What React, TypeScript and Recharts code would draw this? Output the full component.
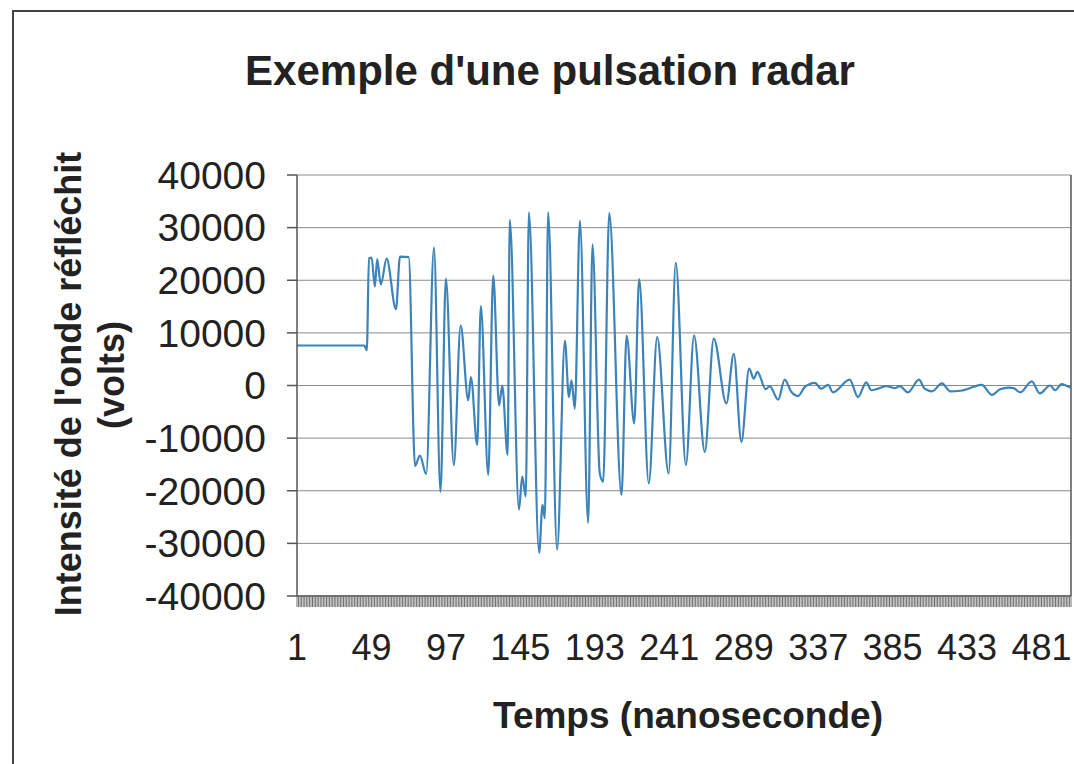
import React from "react";
import { LineChart, Line, XAxis, YAxis, CartesianGrid, ReferenceLine } from "recharts";

// Time (ns) of key points of the trace
const timeNs = [
  1, 44.4, 46.0, 47.4, 49.1, 51.2, 52.7, 55.0, 58.8, 64.8, 67.4, 73.0, 77.1, 80.2, 84.3,
  89.3, 93.5, 97.0, 102.1, 106.5, 111.4, 113.1, 117.2, 119.5, 124.3, 127.5, 131.3, 133.3, 136.8, 138.2,
  144.1, 146.2, 148.5, 150.5, 157.1, 159.3, 160.8, 162.9, 168.7, 173.7, 176.3, 178.0, 180.1, 183.4,
  188.7, 191.5, 196.2, 198.4, 202.3, 210.2, 213.5, 218.4, 221.6, 227.8, 233.2, 240.6, 245.2,
  251.7, 257.0, 263.9, 269.7, 277.8, 282.6, 287.5, 292.5, 295.5, 297.8, 303.2, 305.8, 311.2, 315.4,
  319.7, 324.0, 328.3, 331.6, 334.8, 339.0, 343.4, 346.5, 357.3, 362.7, 368.0, 371.3, 375.6, 381.0,
  386.3, 389.6, 394.9, 402.0, 405.6, 410.4, 416.8, 422.2, 428.7, 432.9, 437.2, 442.5, 449.0,
  454.3, 459.7, 463.0, 467.3, 474.7, 479.9, 486.5, 489.8, 494.0, 497.4, 500,
];

// Reflected wave intensity (volts) at those times
const volts = [
  7600, 7600, 6700, 24200, 24300, 18800, 24000, 19200, 24100, 14500, 24500, 24400, -15300, -13300, -16800,
  26200, -20200, 20300, -15100, 11400, -2800, 1600, -11300, 15100, -17000, 20900, -3800, 0, -13200, 31500,
  -23600, -17300, -21100, 32900, -31800, -22700, -25200, 32900, -31200, 8500, -2200, 1000, -4400, 31300,
  -26100, 26800, -16700, -18300, 32800, -20800, 9500, -7200, 20200, -18600, 9200, -16700, 23300,
  -15100, 9500, -12600, 8900, -3400, 6000, -10700, 3200, 1300, 2600, -700, -100, -2700, 1100,
  -1200, -2000, -300, 300, 500, -600, 100, -1300, 1100, -2200, 600, -900, -600, -100,
  -500, -100, -1300, 1100, -600, -1100, 400, -1100, -1000, -700, -250, 100, -1800,
  -700, -400, -500, -1300, 800, -1500, 0, -900, 250, -100, -400,
];

const xTickLabels = [1, 49, 97, 145, 193, 241, 289, 337, 385, 433, 481];
const yTicks = [-40000, -30000, -20000, -10000, 0, 10000, 20000, 30000, 40000];
const lastSample = 500;

const data = timeNs.map((t, i) => ({ t, v: volts[i] }));
const hatchTicks = Array.from({ length: lastSample }, (_, i) => i + 1);

const FONT = "'Liberation Sans', Arial, Helvetica, sans-serif";

const XTick = (props: any) => {
  const { x, y, payload } = props;
  if (!xTickLabels.includes(payload.value)) return <g />;
  return (
    <text x={x} y={y} dy={51} textAnchor="middle" fontSize={36} fill="#222" fontFamily={FONT}>
      {payload.value}
    </text>
  );
};

export default function App() {
  return (
    <div style={{ position: "absolute", left: 0, top: 0, width: 1074, height: 764, overflow: "hidden", background: "#fff" }}>
      <div
        style={{
          position: "absolute",
          left: 12,
          top: 10,
          width: 1200,
          height: 900,
          borderLeft: "2px solid #444",
          borderTop: "2px solid #444",
        }}
      />
      <div style={{ position: "absolute", left: 0, top: 0 }}>
        <LineChart
          width={1074}
          height={764}
          data={data}
          margin={{ top: 175, right: 3, bottom: 167, left: 0 }}
          style={{ fontFamily: FONT }}
        >
          <CartesianGrid horizontal={true} vertical={false} stroke="#8a8a8a" strokeWidth={1} />
          <XAxis
            dataKey="t"
            type="number"
            domain={[1, lastSample]}
            ticks={hatchTicks}
            interval={0}
            height={1}
            tickSize={11}
            tickLine={{ stroke: "#707070", strokeWidth: 1 }}
            axisLine={{ stroke: "#555", strokeWidth: 1.5 }}
            tick={<XTick />}
          />
          <YAxis
            type="number"
            domain={[-40000, 40000]}
            ticks={yTicks}
            interval={0}
            width={297}
            tickSize={10}
            tickMargin={21}
            tickLine={{ stroke: "#555", strokeWidth: 1.5 }}
            axisLine={{ stroke: "#555", strokeWidth: 1.5 }}
            tick={{ fontSize: 39, fill: "#222", fontFamily: FONT }}
          />
          <ReferenceLine x={lastSample} stroke="#555" strokeWidth={1.5} />
          <Line
            type="monotone"
            dataKey="v"
            stroke="#3b83b8"
            strokeWidth={2.2}
            dot={false}
            isAnimationActive={false}
          />
        </LineChart>
      </div>
      <svg
        width={1074}
        height={764}
        style={{ position: "absolute", left: 0, top: 0, pointerEvents: "none" }}
        fontFamily={FONT}
      >
        <text x={550} y={85} textAnchor="middle" fontSize={42} fontWeight="bold" fill="#222">
          Exemple d'une pulsation radar
        </text>
        <text transform="translate(81,384) rotate(-90)" textAnchor="middle" fontSize={36} fontWeight="bold" fill="#222">
          Intensité de l'onde réfléchit
        </text>
        <text transform="translate(124,375) rotate(-90)" textAnchor="middle" fontSize={36} fontWeight="bold" fill="#222">
          (volts)
        </text>
        <text x={688} y={728} textAnchor="middle" fontSize={37} fontWeight="bold" fill="#222">
          Temps (nanoseconde)
        </text>
      </svg>
    </div>
  );
}
